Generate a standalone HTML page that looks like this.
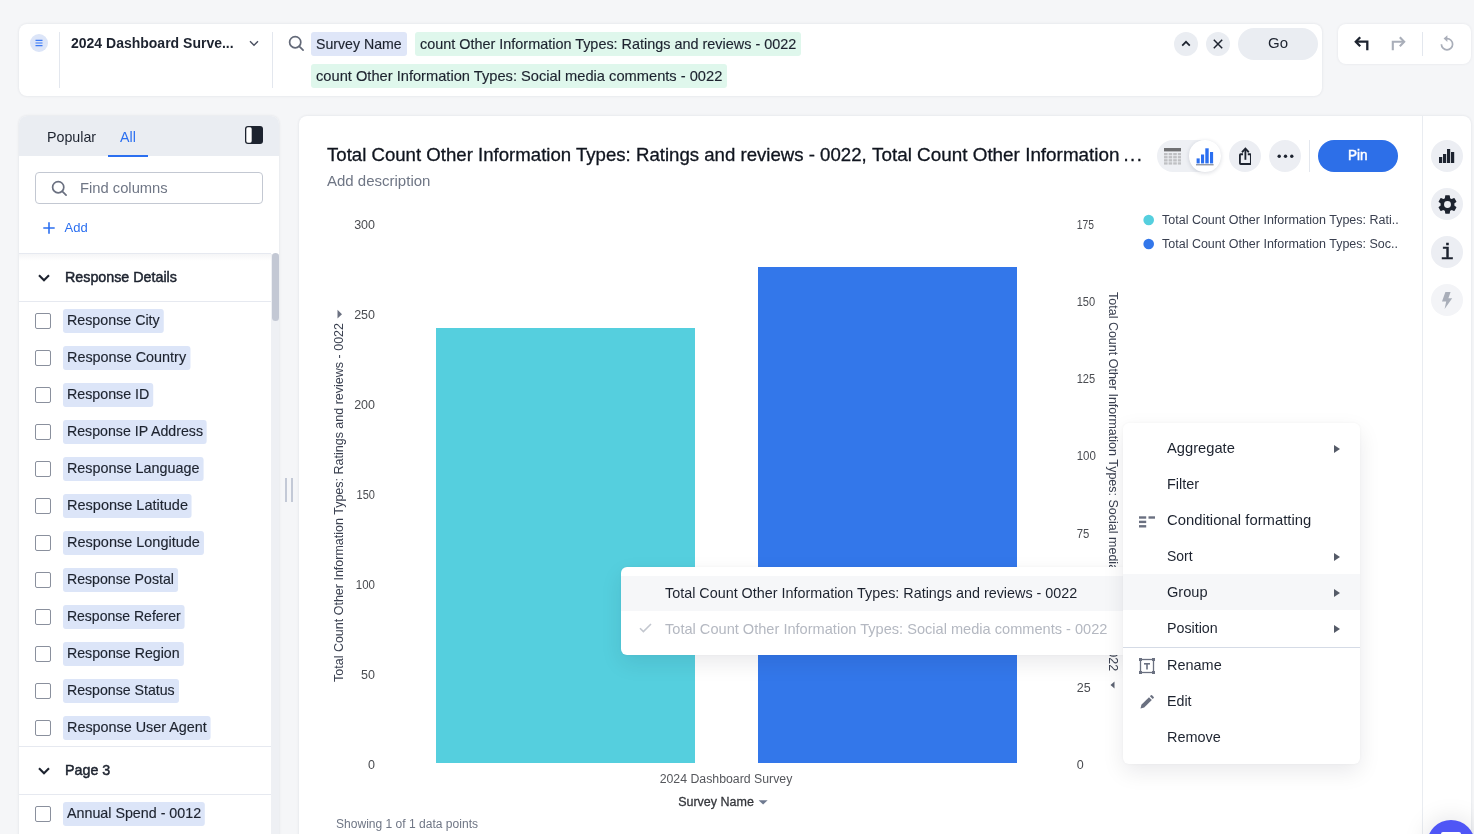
<!DOCTYPE html>
<html lang="en">
<head>
<meta charset="utf-8">
<title>Search</title>
<style>
*{box-sizing:border-box;margin:0;padding:0}
html,body{width:1474px;height:834px;overflow:hidden;background:#f5f6f8;font-family:"Liberation Sans",Arial,sans-serif;color:#1d232f}
.abs{position:absolute}
#root{position:relative;width:1474px;height:834px;overflow:hidden}
/* top bar */
#topbar{left:19px;top:24px;width:1303px;height:72px;background:#fff;border-radius:8px;box-shadow:0 0 3px rgba(20,30,60,.10)}
.vdiv{position:absolute;width:1px;background:#e3e7ee}
.chip{position:absolute;height:24px;line-height:24px;border-radius:3px;font-size:14.5px;color:#1d232f;white-space:nowrap;padding:0 4.6px}
.chip span{display:inline-block;transform-origin:0 50%;-webkit-text-stroke:.15px #1d232f}
.chip.b{background:#dfe6f8}
.chip.g{background:#dff7ec}
.cbtn{position:absolute;width:24px;height:24px;border-radius:50%;background:#eaedf2}
#undo{left:1338px;top:24px;width:133px;height:40px;background:#fff;border-radius:8px;box-shadow:0 0 3px rgba(20,30,60,.08)}
/* left panel */
#left{left:19px;top:116px;width:260px;height:730px;background:#fff;border-radius:8px 8px 0 0;overflow:hidden;box-shadow:0 0 3px rgba(20,30,60,.10)}
#lin{position:absolute;left:-1px;top:-2px;width:262px;height:732px}
#lhead{left:0;top:0;width:262px;height:42px;background:#eaedf2}
.tab{position:absolute;top:14px;font-size:15px;line-height:18px;transform-origin:0 50%;transform:scaleX(.95)}
.sec{position:absolute;left:0;width:253px;border-top:1px solid #e6e9f0;border-bottom:1px solid #e6e9f0;background:#fff}
.sec span{position:absolute;left:47px;font-size:15px;font-weight:normal;-webkit-text-stroke:.5px #1d232f;color:#1d232f;white-space:nowrap;transform-origin:0 50%;transform:scaleX(.952)}
.row{position:absolute;left:0;width:253px;height:37px}
.cb{position:absolute;left:17px;top:11px;width:16px;height:16px;border:1px solid #8a909d;border-radius:2px;background:#fff}
.col{position:absolute;left:45px;top:7px;height:24px;line-height:22px;-webkit-text-stroke:.15px #1d232f;padding:0 4.2px;transform-origin:0 50%;transform:scaleX(.953);border-radius:3px;background:#dce5f8;font-size:15px;color:#1d232f;white-space:nowrap}
/* main */
#main{left:299px;top:116px;width:1172px;height:730px;background:#fff;border-radius:8px 8px 0 0;box-shadow:0 0 3px rgba(20,30,60,.10)}
.rbtn{position:absolute;width:32px;height:32px;border-radius:50%;background:#eceef3}
.ax{position:absolute;font-size:12.5px;color:#4a5060;line-height:14px;white-space:nowrap}
.ttl span{position:absolute;top:0;font-size:18.5px;line-height:22px;color:#10151f;white-space:nowrap;-webkit-text-stroke:.3px #10151f;transform-origin:0 50%}
/* menus */
.menu{position:absolute;background:#fff;border-radius:6px;box-shadow:0 8px 22px rgba(10,15,30,.085),0 0 3px rgba(10,15,30,.04)}
.mi{position:absolute;left:0;width:100%;height:36px;line-height:36px;font-size:15px;color:#1d232f;white-space:nowrap}
.mi span{transform-origin:0 50%}
.mi.h{background:#f6f7f9}
.arr{position:absolute;right:20px;top:14.5px;width:0;height:0;border-left:6px solid #555b68;border-top:4.3px solid transparent;border-bottom:4.3px solid transparent}
</style>
</head>
<body>
<div id="root">

<!-- ============ TOP BAR ============ -->
<div id="topbar" class="abs"><div class="abs" style="left:-1px;top:0;width:1304px;height:72px">
  <div class="abs" style="left:12px;top:10px;width:18px;height:18px;border-radius:50%;background:#dce5f8"></div>
  <svg class="abs" style="left:17px;top:15px" width="8" height="8" viewBox="0 0 8 8"><path d="M0.5 1.3h7M0.5 4h7M0.5 6.7h7" stroke="#3b7af5" stroke-width="1.2" fill="none"/></svg>
  <div class="vdiv" style="left:41px;top:8px;height:56px"></div>
  <div class="abs" style="left:53px;top:10px;font-size:14px;font-weight:bold;line-height:18px;color:#1d232f;white-space:nowrap">2024 Dashboard Surve...</div>
  <svg class="abs" style="left:231px;top:16px" width="10" height="7" viewBox="0 0 10 7"><path d="M1 1.2l4 4 4-4" stroke="#4a5060" stroke-width="1.4" fill="none"/></svg>
  <div class="vdiv" style="left:254px;top:8px;height:56px"></div>
  <svg class="abs" style="left:269.6px;top:11px" width="17" height="17" viewBox="0 0 17 17"><circle cx="7.2" cy="7.2" r="5.6" stroke="#636978" stroke-width="1.7" fill="none"/><path d="M11.3 11.3l3.800 3.800" stroke="#636978" stroke-width="1.7" stroke-linecap="round"/></svg>
  <div class="chip b" style="left:293px;top:8px;width:96px"><span style="transform:scaleX(.975)">Survey Name</span></div>
  <div class="chip g" style="left:397px;top:8px;width:386px"><span style="transform:scaleX(.994)">count Other Information Types: Ratings and reviews - 0022</span></div>
  <div class="chip g" style="left:293px;top:40px;width:416px"><span style="transform:scaleX(1.011)">count Other Information Types: Social media comments - 0022</span></div>
  <div class="cbtn" style="left:1156px;top:8px"></div>
  <svg class="abs" style="left:1163px;top:16px" width="10" height="7" viewBox="0 0 10 7"><path d="M1.2 5.6l3.8-3.8 3.8 3.8" stroke="#1d232f" stroke-width="1.7" fill="none"/></svg>
  <div class="cbtn" style="left:1188px;top:8px"></div>
  <svg class="abs" style="left:1195px;top:15px" width="10" height="10" viewBox="0 0 10 10"><path d="M0.8 0.8l8.4 8.4M9.2 0.8l-8.4 8.4" stroke="#1d232f" stroke-width="1.5" fill="none"/></svg>
  <div class="abs" style="left:1220px;top:4px;width:80px;height:32px;border-radius:16px;background:#eaedf2;text-align:center;line-height:30px;font-size:15px;color:#1d232f">Go</div>
</div></div>

<div id="undo" class="abs">
  <svg class="abs" style="left:16px;top:12px" width="16" height="16" viewBox="0 0 16 16"><path d="M6.2 1.2L1.8 5.7l4.4 4.5" stroke="#1d232f" stroke-width="2.3" fill="none"/><path d="M2 5.7h11.3v8.6" stroke="#1d232f" stroke-width="2.3" fill="none"/></svg>
  <svg class="abs" style="left:52px;top:12px" width="16" height="16" viewBox="0 0 16 16"><path d="M9.8 1.2l4.4 4.5-4.4 4.5" stroke="#a9aeb9" stroke-width="2.1" fill="none"/><path d="M14 5.7H2.8v8.6" stroke="#a9aeb9" stroke-width="2.1" fill="none"/></svg>
  <div class="vdiv" style="left:84px;top:8px;height:24px"></div>
  <svg class="abs" style="left:101px;top:11px" width="16" height="17" viewBox="0 0 16 17"><path d="M8 3.6a5.6 5.6 0 1 1-5.6 5.6" stroke="#a9aeb9" stroke-width="1.7" fill="none"/><path d="M8.4 0.2v6.8L4.6 3.6z" fill="#a9aeb9"/></svg>
</div>

<!-- ============ LEFT PANEL ============ -->
<div id="left" class="abs"><div id="lin">
  <div id="lhead" class="abs"></div>
  <div class="tab" style="left:29px;color:#1d232f">Popular</div>
  <div class="tab" style="left:102px;color:#2b6ff0">All</div>
  <div class="abs" style="left:90px;top:41px;width:40px;height:2px;background:#2b6ff0"></div>
  <svg class="abs" style="left:227px;top:12px" width="18" height="18" viewBox="0 0 18 18"><rect x="0" y="0" width="18" height="18" rx="3" fill="#1d232f"/><rect x="1.3" y="1.3" width="5.4" height="15.4" rx="1.6" fill="#fff"/></svg>

  <div class="abs" style="left:17px;top:58px;width:228px;height:32px;border:1px solid #c3c8d2;border-radius:4px;background:#fff"></div>
  <svg class="abs" style="left:33px;top:66px" width="17" height="17" viewBox="0 0 17 17"><circle cx="7.2" cy="7.2" r="5.6" stroke="#6a7080" stroke-width="1.7" fill="none"/><path d="M11.3 11.3l3.800 3.800" stroke="#6a7080" stroke-width="1.7" stroke-linecap="round"/></svg>
  <div class="abs" style="left:62px;top:65px;font-size:15px;line-height:18px;color:#6f7685;transform-origin:0 50%;transform:scaleX(.983)">Find columns</div>

  <svg class="abs" style="left:25px;top:108px" width="12" height="12" viewBox="0 0 12 12"><path d="M6 0.300v11.400M0.300 6h11.400" stroke="#2b6ff0" stroke-width="1.6"/></svg>
  <div class="abs" style="left:46.5px;top:106px;font-size:13px;line-height:16px;color:#2b6ff0">Add</div>

  <div class="abs" style="left:0;top:140px;width:253px;height:7px;background:linear-gradient(rgba(20,30,60,.045),rgba(20,30,60,0));z-index:2"></div>
  <!-- scrollbar -->
  <div class="abs" style="left:253px;top:140px;width:9px;height:600px;background:#eef0f4"></div>
  <div class="abs" style="left:253.5px;top:139px;width:7.5px;height:68px;border-radius:4px;background:#c3c8d4"></div>

  <div class="sec" style="top:139px;height:49px"><svg class="abs" style="left:20px;top:20px" width="12" height="8" viewBox="0 0 12 8"><path d="M1 1.2L6 6.2l5-5" stroke="#1d232f" stroke-width="2.1" fill="none"/></svg><span style="top:14px">Response Details</span></div>

  <div class="row" style="top:188px"><div class="cb"></div><div class="col" style="transform:scaleX(0.9506)">Response City</div></div>
  <div class="row" style="top:225px"><div class="cb"></div><div class="col" style="transform:scaleX(0.9583)">Response Country</div></div>
  <div class="row" style="top:262px"><div class="cb"></div><div class="col" style="transform:scaleX(0.9498)">Response ID</div></div>
  <div class="row" style="top:299px"><div class="cb"></div><div class="col" style="transform:scaleX(0.9451)">Response IP Address</div></div>
  <div class="row" style="top:336px"><div class="cb"></div><div class="col" style="transform:scaleX(0.9564)">Response Language</div></div>
  <div class="row" style="top:373px"><div class="cb"></div><div class="col" style="transform:scaleX(0.9666)">Response Latitude</div></div>
  <div class="row" style="top:410px"><div class="cb"></div><div class="col" style="transform:scaleX(0.9653)">Response Longitude</div></div>
  <div class="row" style="top:447px"><div class="cb"></div><div class="col" style="transform:scaleX(0.9431)">Response Postal</div></div>
  <div class="row" style="top:484px"><div class="cb"></div><div class="col" style="transform:scaleX(0.9353)">Response Referer</div></div>
  <div class="row" style="top:521px"><div class="cb"></div><div class="col" style="transform:scaleX(0.9444)">Response Region</div></div>
  <div class="row" style="top:558px"><div class="cb"></div><div class="col" style="transform:scaleX(0.9432)">Response Status</div></div>
  <div class="row" style="top:595px"><div class="cb"></div><div class="col" style="transform:scaleX(0.9582)">Response User Agent</div></div>

  <div class="sec" style="top:632px;height:49px"><svg class="abs" style="left:20px;top:20px" width="12" height="8" viewBox="0 0 12 8"><path d="M1 1.2L6 6.2l5-5" stroke="#1d232f" stroke-width="2.1" fill="none"/></svg><span style="top:14px">Page 3</span></div>
  <div class="row" style="top:681px"><div class="cb"></div><div class="col" style="transform:scaleX(0.9517)">Annual Spend - 0012</div></div>
</div></div>

<!-- resize handle -->
<div class="abs" style="left:285px;top:478px;width:2px;height:24px;background:#c3c9d6"></div>
<div class="abs" style="left:291px;top:478px;width:2px;height:24px;background:#c3c9d6"></div>

<!-- ============ MAIN PANEL ============ -->
<div id="main" class="abs"><div class="abs" style="left:-1px;top:-2px;width:1172px;height:732px">
  <div class="abs ttl" style="left:29px;top:30px;width:818px;height:22px"><span style="left:0;transform:scaleX(1.006)">Total Count Other Information Types: Ratings and reviews - 0022,</span><span style="left:545.2px;transform:scaleX(1.02)">Total Count Other Information</span><span style="left:796.4px;letter-spacing:1.5px">...</span></div>
  <div class="abs" style="left:29px;top:58px;font-size:15px;line-height:18px;color:#6f7685">Add description</div>

  <!-- view toggle -->
  <div class="abs" style="left:859px;top:26px;width:63.5px;height:32px;border-radius:16px;background:#eef0f4"></div>
  <div class="abs" style="left:891px;top:26.3px;width:31.5px;height:31.5px;border-radius:50%;background:#fff;box-shadow:0 1px 4px rgba(20,30,60,.16)"></div>
  <svg class="abs" style="left:866.4px;top:33.5px" width="17" height="17.4" viewBox="0 0 17 17.4" preserveAspectRatio="none"><rect x="0" y="0" width="17" height="3.4" fill="#707173"/><g fill="#bfc0c3"><rect x="0" y="5" width="3.6" height="2.3"/><rect x="4.6" y="5" width="3.6" height="2.3"/><rect x="9.2" y="5" width="3.6" height="2.3"/><rect x="13.8" y="5" width="3.2" height="2.3"/><rect x="0" y="8.1" width="3.6" height="2.3"/><rect x="4.6" y="8.1" width="3.6" height="2.3"/><rect x="9.2" y="8.1" width="3.6" height="2.3"/><rect x="13.8" y="8.1" width="3.2" height="2.3"/><rect x="0" y="11.2" width="3.6" height="2.3"/><rect x="4.6" y="11.2" width="3.6" height="2.3"/><rect x="9.2" y="11.2" width="3.6" height="2.3"/><rect x="13.8" y="11.2" width="3.2" height="2.3"/><rect x="0" y="14.3" width="3.6" height="2.3"/><rect x="4.6" y="14.3" width="3.6" height="2.3"/><rect x="9.2" y="14.3" width="3.6" height="2.3"/><rect x="13.8" y="14.3" width="3.2" height="2.3"/></g></svg>
  <svg class="abs" style="left:898.1px;top:33.5px" width="18" height="18" viewBox="0 0 18 18"><g fill="#2b6ff0"><rect x="0.6" y="10.4" width="3.1" height="5"/><rect x="5" y="6.5" width="3.1" height="8.9"/><rect x="9.3" y="0.3" width="3.4" height="15.1"/><rect x="14" y="4" width="3.1" height="11.4"/></g><rect x="0" y="16.1" width="17.6" height="1.3" fill="#8a8f9c"/></svg>

  <!-- share -->
  <div class="rbtn" style="left:931px;top:26px"></div>
  <svg class="abs" style="left:940.6px;top:33.3px" width="12.8" height="18" viewBox="0 0 14 18" preserveAspectRatio="none"><path d="M4.4 7.3H1.8a.8.8 0 0 0-.8.8v8.1a.8.8 0 0 0 .8.8h10.4a.8.8 0 0 0 .8-.8V8.100a.8.8 0 0 0-.8-.8H9.600" stroke="#1d232f" stroke-width="2" fill="none"/><path d="M7 12.800V2.500" stroke="#1d232f" stroke-width="2"/><path d="M3.300 5.300L7 1.600l3.700 3.700" stroke="#1d232f" stroke-width="2" fill="none"/></svg>
  <!-- more -->
  <div class="rbtn" style="left:971px;top:26px"></div>
  <svg class="abs" style="left:978.5px;top:39.8px" width="17" height="4.4" viewBox="0 0 17 4.4"><circle cx="2.2" cy="2.2" r="1.7" fill="#1d232f"/><circle cx="8.5" cy="2.2" r="1.7" fill="#1d232f"/><circle cx="14.8" cy="2.2" r="1.7" fill="#1d232f"/></svg>
  <div class="vdiv" style="left:1011px;top:26px;height:32px"></div>
  <div class="abs" style="left:1020px;top:26px;width:80px;height:32px;border-radius:16px;background:#2d6fe8;color:#fff;font-size:15px;-webkit-text-stroke:.5px #fff;text-align:center;line-height:30px"><span style="display:inline-block;transform:scaleX(.9)">Pin</span></div>

  <!-- right sidebar -->
  <div class="vdiv" style="left:1124px;top:2px;height:730px;background:#e9ecf1"></div>
  <div class="rbtn" style="left:1133px;top:26px"></div>
  <svg class="abs" style="left:1141px;top:35px" width="16" height="14" viewBox="0 0 16 14"><g fill="#1d232f"><rect x="0" y="8" width="3.2" height="6"/><rect x="4" y="5" width="3.2" height="9"/><rect x="8" y="0" width="3.2" height="14"/><rect x="12" y="3" width="3.2" height="11"/></g></svg>
  <div class="rbtn" style="left:1133px;top:74px"></div>
  <svg class="abs" style="left:1137.5px;top:78.5px" width="23" height="23" viewBox="0 0 24 24"><path fill="#1d232f" d="M19.14 12.94c.04-.3.06-.61.06-.94 0-.32-.02-.64-.07-.94l2.03-1.58a.49.49 0 0 0 .12-.61l-1.92-3.32a.49.49 0 0 0-.59-.22l-2.39.96c-.5-.38-1.03-.7-1.62-.94l-.36-2.54a.48.48 0 0 0-.48-.41h-3.84c-.24 0-.43.17-.47.41l-.36 2.54c-.59.24-1.13.57-1.62.94l-2.39-.96a.48.48 0 0 0-.59.22L2.74 8.87c-.12.21-.08.47.12.61l2.03 1.58c-.05.3-.09.63-.09.94s.02.64.07.94l-2.03 1.58a.49.49 0 0 0-.12.61l1.92 3.32c.12.22.37.29.59.22l2.39-.96c.5.38 1.03.7 1.62.94l.36 2.54c.05.24.24.41.48.41h3.84c.24 0 .44-.17.47-.41l.36-2.54c.59-.24 1.13-.56 1.62-.94l2.39.96c.22.08.47 0 .59-.22l1.92-3.32c.12-.22.07-.47-.12-.61l-2.01-1.58zM12 15.6A3.6 3.6 0 1 1 12 8.4a3.6 3.6 0 0 1 0 7.2z"/></svg>
  <div class="rbtn" style="left:1133px;top:122px"></div>
  <div class="abs" style="left:1133px;top:125px;width:32px;height:32px;text-align:center;line-height:30px;font-family:'Liberation Mono',monospace;font-size:22px;-webkit-text-stroke:.5px #1d232f;color:#1d232f">i</div>
  <div class="rbtn" style="left:1133px;top:170px;background:#f3f4f7"></div>
  <svg class="abs" style="left:1143px;top:178px" width="12" height="17" viewBox="0 0 12 17"><path d="M4.4 0h5.2L7.4 6.2h3.8L3.6 17l1.6-7.6H1z" fill="#a9aeb9"/></svg>

  <svg class="abs" style="left:0;top:0" width="1124" height="730" viewBox="298 114 1124 730" font-family="'Liberation Sans',Arial,sans-serif">
    <!-- bars -->
    <rect x="436" y="328" width="259" height="435" fill="#55cfde"/>
    <rect x="758" y="267" width="259" height="496" fill="#3377ea"/>
    <!-- left axis ticks -->
    <g font-size="12.5" fill="#4a4c51" text-anchor="end">
      <text x="375" y="229">300</text><text x="375" y="319">250</text><text x="375" y="409">200</text>
      <text x="375" y="499" textLength="18.4" lengthAdjust="spacingAndGlyphs">150</text><text x="375" y="589" textLength="19.2" lengthAdjust="spacingAndGlyphs">100</text><text x="375" y="679">50</text><text x="375" y="769">0</text>
    </g>
    <!-- right axis ticks -->
    <g font-size="12.5" fill="#4a4c51">
      <text x="1076.700" y="229" textLength="17.2" lengthAdjust="spacingAndGlyphs">175</text><text x="1076.700" y="306" textLength="18.5" lengthAdjust="spacingAndGlyphs">150</text><text x="1076.700" y="383" textLength="18.5" lengthAdjust="spacingAndGlyphs">125</text>
      <text x="1076.700" y="460" textLength="19.2" lengthAdjust="spacingAndGlyphs">100</text><text x="1076.700" y="538" textLength="12.6" lengthAdjust="spacingAndGlyphs">75</text><text x="1076.700" y="615">50</text>
      <text x="1076.700" y="692">25</text><text x="1076.700" y="769">0</text>
    </g>
    <!-- axis titles -->
    <text transform="translate(343,682) rotate(-90)" font-size="12.5" fill="#3a4050">Total Count Other Information Types: Ratings and reviews - 0022</text>
    <path d="M337.5 309.800l4.5 4.400-4.500 4.400z" fill="#6a7080"/>
    <text transform="translate(1109,292) rotate(90)" font-size="12.5" fill="#3a4050">Total Count Other Information Types: Social media comments - 0022</text>
    <path d="M1114.5 681.5l-4 3.5 4 3.5z" fill="#5d6372"/>
    <!-- legend -->
    <circle cx="1148.7" cy="220" r="5.3" fill="#55cfde"/>
    <circle cx="1148.7" cy="244" r="5.3" fill="#3377ea"/>
    <text x="1162" y="224" font-size="12.5" fill="#3a4050">Total Count Other Information Types: Rati..</text>
    <text x="1162" y="248" font-size="12.5" fill="#3a4050">Total Count Other Information Types: Soc..</text>
    <!-- x axis -->
    <text x="726" y="783" font-size="12.3" fill="#55575c" text-anchor="middle">2024 Dashboard Survey</text>
    <text x="716" y="806" font-size="12.5" fill="#34363b" text-anchor="middle" stroke="#34363b" stroke-width=".28">Survey Name</text>
    <path d="M758.600 800.200h9l-4.500 4.300z" fill="#6f7a90"/>
    <text x="336" y="828" font-size="12.5" fill="#6f7685" textLength="142" lengthAdjust="spacingAndGlyphs">Showing 1 of 1 data points</text>
  </svg>
</div></div>
<!-- ============ SUB MENU ============ -->
<div class="menu" style="left:621px;top:566.5px;width:502px;height:88px;border-radius:6px 0 0 6px">
  <div class="mi h" style="top:9px;height:35px;line-height:33px"><span class="abs" style="left:44px;transform:scaleX(.957)">Total Count Other Information Types: Ratings and reviews - 0022</span></div>
  <div class="mi" style="top:44px;line-height:35px;color:#b4b8c1"><svg class="abs" style="left:18px;top:12.5px" width="13" height="10" viewBox="0 0 13 10"><path d="M1 5.2l3.4 3.4L12 1" stroke="#c3c7cf" stroke-width="1.6" fill="none"/></svg><span class="abs" style="left:44px;transform:scaleX(.9725)">Total Count Other Information Types: Social media comments - 0022</span></div>
</div>
<!-- ============ CONTEXT MENU ============ -->
<div class="menu" style="left:1123px;top:423px;width:237px;height:341px">
  <div class="mi" style="top:7px"><span class="abs" style="left:44px;transform:scaleX(.98)">Aggregate</span><i class="arr"></i></div>
  <div class="mi" style="top:43px"><span class="abs" style="left:44px;transform:scaleX(.965)">Filter</span></div>
  <div class="mi" style="top:79px"><svg class="abs" style="left:16px;top:13.5px" width="16" height="12" viewBox="0 0 16 12"><g fill="#6a7080"><rect x="0" y="0.3" width="7.2" height="2.4"/><rect x="9.5" y="0.3" width="6.5" height="2.4"/><rect x="0" y="4.7" width="7.2" height="2.4"/><rect x="0" y="9.1" width="7.2" height="2.4"/></g></svg><span class="abs" style="left:44px;transform:scaleX(.988)">Conditional formatting</span></div>
  <div class="mi" style="top:115px"><span class="abs" style="left:44px;transform:scaleX(.93)">Sort</span><i class="arr"></i></div>
  <div class="mi h" style="top:151px"><span class="abs" style="left:44px;transform:scaleX(.973)">Group</span><i class="arr"></i></div>
  <div class="mi" style="top:187px"><span class="abs" style="left:44px;transform:scaleX(.95)">Position</span><i class="arr"></i></div>
  <div class="abs" style="left:0;top:223.5px;width:237px;height:1px;background:#d5dbe6"></div>
  <div class="mi" style="top:224px"><svg class="abs" style="left:16px;top:10.5px" width="16" height="16" viewBox="0 0 16 16"><rect x="1.5" y="1.5" width="13" height="13" stroke="#6a7080" stroke-width="1.3" fill="none"/><g fill="#6a7080"><rect x="0" y="0" width="3" height="3"/><rect x="13" y="0" width="3" height="3"/><rect x="0" y="13" width="3" height="3"/><rect x="13" y="13" width="3" height="3"/><rect x="5" y="5" width="6" height="1.6"/><rect x="7.2" y="5" width="1.6" height="6.5"/></g></svg><span class="abs" style="left:44px;transform:scaleX(.965)">Rename</span></div>
  <div class="mi" style="top:260px"><svg class="abs" style="left:17px;top:11.5px" width="14" height="14" viewBox="0 0 14 14"><path d="M0.5 13.5l0.9-3.7 7.6-7.6 2.8 2.8-7.6 7.6z" fill="#6a7080"/><path d="M9.9 1.3l1-1a0.8 0.8 0 0 1 1.1 0l1.7 1.7a0.8 0.8 0 0 1 0 1.1l-1 1z" fill="#6a7080"/></svg><span class="abs" style="left:44px;transform:scaleX(.95)">Edit</span></div>
  <div class="mi" style="top:296px"><span class="abs" style="left:44px;transform:scaleX(.965)">Remove</span></div>
</div>
<!-- chat bubble -->
<div class="abs" style="left:1426.5px;top:820px;width:48.6px;height:48.6px;border-radius:50%;background:#4f56f6;box-shadow:0 0 26px rgba(10,15,30,.13)"></div>
<div class="abs" style="left:1441px;top:832.3px;width:20px;height:6px;border-radius:2px 2px 0 0;background:#fff"></div>



</div>
</body>
</html>
